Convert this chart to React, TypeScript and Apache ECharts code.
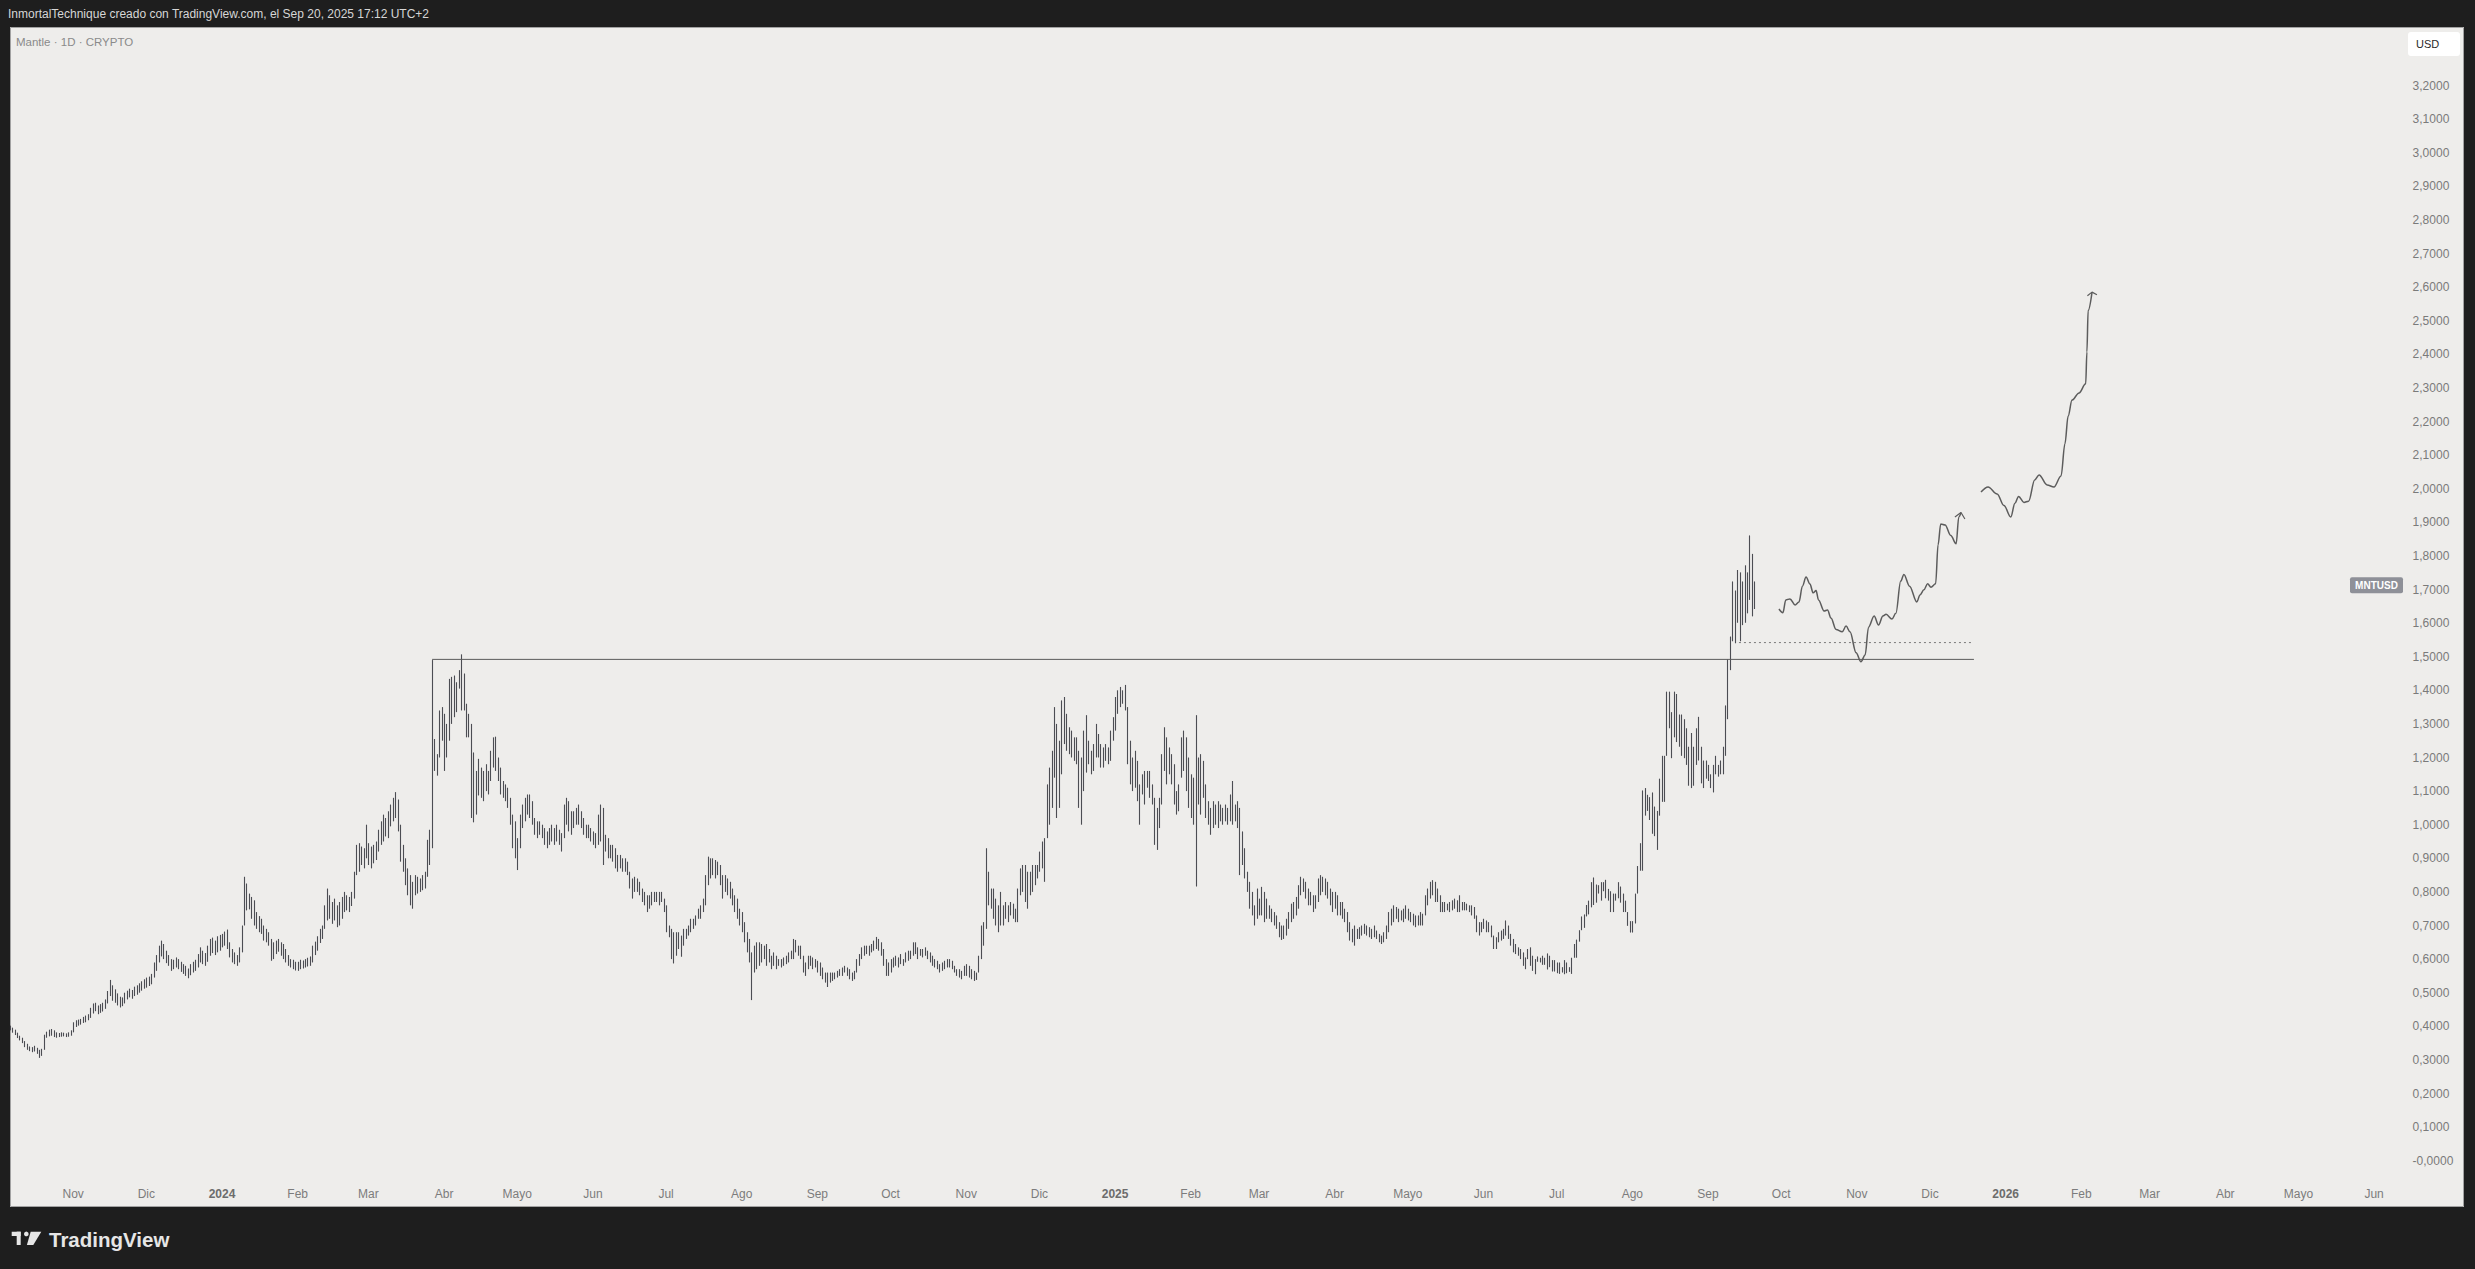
import * as echarts from "echarts";
import { useEffect, useRef } from "react";

// daily bars start on 6 Oct 2023; the time scale runs on into June 2026
const FIRST_DAY = Date.UTC(2023, 9, 6);
const DAY_COUNT = 982;
const MONTHS = ["", "Feb", "Mar", "Abr", "Mayo", "Jun", "Jul", "Ago", "Sep", "Oct", "Nov", "Dic"];

// MNT/USD daily lows, one line per month (Oct 2023 .. Sep 2025)
const lows = [
  .388,.381,.374,.365,.358,.350,.338,.330,.326,.323,.325,.318,.306,.312,.330,.366,.370,.372,.368,.366,.368,.369,.370,.368,.369,.372,
  .382,.398,.402,.405,.410,.412,.418,.425,.438,.445,.436,.440,.444,.452,.468,.490,.476,.470,.462,.456,.460,.468,.480,.486,.482,.490,.494,.500,.506,.512,
  .515,.520,.525,.545,.565,.590,.608,.600,.588,.580,.565,.570,.575,.570,.562,.556,.550,.543,.552,.560,.565,.575,.590,.585,.580,.592,.610,.618,.612,.620,.625,
  .635,.640,.630,.605,.590,.585,.580,.590,.620,.700,.745,.748,.720,.700,.690,.680,.675,.655,.650,.640,.595,.600,.615,.622,.610,.600,.590,.580,.575,.570,.566,
  .565,.570,.572,.575,.578,.580,.590,.612,.625,.648,.660,.690,.715,.720,.705,.715,.695,.700,.720,.740,.745,.740,.758,.780,.850,.860,.880,.870,.900,
  .880,.870,.885,.895,.920,.940,.950,.965,.960,.995,1.010,1.020,.980,.890,.860,.820,.790,.760,.750,.790,.795,.800,.805,.810,.845,.880,.930,1.160,1.146,1.200,1.250,
  1.160,1.200,1.250,1.300,1.320,1.335,1.405,1.340,1.340,1.260,1.260,1.020,1.007,1.030,1.087,1.080,1.070,1.100,1.090,1.130,1.170,1.160,1.130,1.090,1.080,1.070,1.050,1.000,.930,.900,
  .865,.930,.990,1.010,1.030,1.020,1.000,.970,.960,.970,.960,.940,.930,.940,.950,.940,.950,.940,.920,.960,1.000,.980,.970,.990,1.000,1.000,.990,.970,.960,.960,.950,
  .940,.930,.940,.950,.880,.920,.900,.900,.890,.870,.860,.870,.860,.860,.850,.810,.780,.800,.800,.790,.770,.760,.740,.750,.760,.770,.770,.760,.770,.740,
  .680,.665,.600,.587,.610,.630,.607,.640,.660,.670,.680,.690,.700,.720,.720,.740,.760,.820,.840,.850,.840,.850,.820,.780,.800,.790,.780,.760,.740,.720,.700,
  .680,.650,.620,.590,.478,.560,.570,.580,.590,.600,.580,.590,.570,.580,.570,.580,.575,.580,.585,.590,.600,.600,.620,.610,.600,.560,.550,.570,.580,.570,.575,
  .560,.550,.540,.530,.517,.530,.535,.540,.545,.550,.550,.560,.550,.540,.535,.540,.560,.580,.600,.610,.615,.610,.620,.625,.630,.625,.610,.580,.550,.550,
  .560,.575,.580,.575,.585,.580,.590,.595,.600,.610,.615,.600,.610,.605,.610,.600,.590,.580,.575,.570,.560,.565,.570,.575,.575,.570,.560,.550,.545,.540,.550,
  .550,.545,.540,.535,.538,.560,.600,.640,.690,.760,.750,.720,.700,.680,.700,.700,.720,.710,.730,.720,.710,.710,.790,.800,.770,.750,.790,.800,.820,.840,
  .860,.870,.830,.960,1.000,1.050,1.140,1.020,1.050,1.150,1.240,1.220,1.210,1.200,1.190,1.180,1.050,1.000,1.100,1.155,1.180,1.150,1.160,1.200,1.200,1.170,1.170,1.190,1.180,1.190,1.250,
  1.280,1.330,1.350,1.360,1.340,1.180,1.120,1.100,1.110,1.070,1.000,1.090,1.060,1.110,1.080,1.060,.940,.925,.990,1.060,1.160,1.120,1.150,1.120,1.060,1.030,1.040,1.140,1.160,1.100,1.050,
  1.020,1.000,.816,1.060,1.030,1.080,1.020,1.000,.970,.990,1.000,.990,1.010,1.000,1.010,1.000,1.010,1.000,1.010,.990,.850,.880,.840,.800,.750,.730,.700,.720,
  .730,.730,.710,.720,.720,.710,.700,.690,.665,.657,.660,.670,.690,.710,.720,.730,.750,.790,.800,.780,.760,.760,.740,.750,.770,.790,.800,.790,.780,.760,.740,
  .750,.730,.730,.720,.710,.680,.655,.650,.640,.660,.660,.670,.675,.670,.665,.660,.665,.660,.650,.645,.650,.660,.680,.700,.710,.720,.710,.715,.710,.720,
  .715,.710,.700,.695,.700,.700,.700,.730,.760,.780,.790,.770,.770,.740,.740,.740,.745,.740,.745,.750,.740,.740,.745,.745,.745,.740,.730,.720,.680,.670,.680,
  .690,.680,.680,.665,.630,.630,.650,.655,.660,.670,.660,.640,.620,.615,.610,.600,.580,.570,.600,.580,.565,.555,.592,.590,.583,.583,.569,.576,.563,.563,
  .558,.556,.560,.555,.558,.562,.556,.604,.604,.652,.686,.693,.727,.733,.754,.761,.768,.795,.774,.802,.781,.774,.740,.740,.774,.781,.768,.740,.740,.699,.679,
  .679,.706,.795,.863,.863,1.027,1.041,1.014,.973,.966,.925,1.027,1.068,1.068,1.205,1.287,1.198,1.260,1.246,1.232,1.205,1.198,1.178,1.116,1.109,1.116,1.178,1.191,1.123,1.109,1.137,
  1.130,1.109,1.096,1.150,1.143,1.150,1.150,1.205,1.314,1.460,1.546,1.540,1.601,1.546,1.594,1.601,1.629,1.669,1.620,1.642,
];

// MNT/USD daily highs, same days
const highs = [
  .402,.396,.390,.381,.372,.366,.356,.348,.340,.338,.342,.336,.330,.333,.375,.384,.390,.392,.388,.382,.380,.382,.381,.379,.382,.388,
  .412,.418,.420,.422,.428,.432,.436,.455,.468,.470,.462,.466,.470,.480,.505,.538,.522,.510,.498,.488,.486,.500,.506,.512,.508,.518,.522,.528,.534,.540,
  .545,.548,.556,.590,.612,.640,.655,.645,.625,.612,.600,.598,.605,.600,.592,.585,.580,.572,.585,.592,.598,.615,.635,.625,.618,.640,.660,.664,.655,.668,.672,
  .675,.682,.688,.650,.630,.620,.612,.635,.700,.845,.825,.795,.785,.775,.740,.728,.720,.700,.690,.680,.660,.650,.655,.660,.650,.645,.630,.612,.600,.598,.592,
  .592,.598,.596,.600,.604,.608,.640,.652,.668,.690,.700,.760,.810,.790,.770,.780,.760,.770,.785,.800,.790,.785,.800,.860,.940,.945,.935,.930,1.000,
  .945,.935,.940,.950,.985,1.010,1.030,1.020,1.040,1.060,1.080,1.097,1.075,1.000,.940,.900,.870,.850,.830,.850,.845,.840,.850,.860,.955,.985,1.490,1.255,1.210,1.340,1.350,
  1.330,1.300,1.434,1.440,1.444,1.424,1.460,1.507,1.450,1.360,1.330,1.300,1.215,1.160,1.196,1.170,1.160,1.180,1.160,1.220,1.260,1.262,1.200,1.170,1.130,1.120,1.110,1.080,1.030,1.010,
  .960,1.030,1.060,1.080,1.090,1.090,1.070,1.020,1.010,1.010,1.000,.990,.980,.990,1.000,.990,1.000,.985,.975,1.060,1.080,1.070,1.040,1.040,1.050,1.060,1.040,1.020,1.000,1.000,.990,
  .980,.975,1.030,1.060,1.050,.970,.960,.940,.940,.930,.910,.910,.900,.900,.890,.860,.840,.845,.840,.830,.810,.800,.790,.790,.800,.800,.800,.800,.800,.780,
  .760,.700,.690,.680,.680,.680,.670,.690,.690,.700,.720,.720,.730,.750,.760,.780,.850,.905,.900,.900,.895,.890,.880,.850,.850,.840,.830,.810,.790,.780,.750,
  .740,.710,.680,.660,.620,.640,.650,.650,.645,.640,.645,.630,.610,.620,.610,.600,.600,.605,.610,.620,.625,.660,.657,.640,.640,.610,.590,.610,.610,.605,.600,
  .595,.590,.575,.560,.560,.560,.560,.560,.565,.570,.575,.580,.575,.570,.560,.565,.600,.615,.635,.640,.640,.640,.645,.655,.666,.660,.650,.630,.600,.590,
  .600,.605,.610,.605,.615,.600,.620,.625,.625,.650,.650,.635,.630,.630,.635,.625,.620,.610,.600,.595,.585,.590,.595,.600,.600,.595,.580,.570,.570,.565,.580,
  .585,.580,.570,.565,.560,.610,.700,.710,.930,.860,.810,.810,.780,.760,.800,.760,.770,.760,.770,.765,.750,.810,.870,.880,.880,.860,.860,.880,.880,.880,
  .920,.950,.960,1.120,1.170,1.220,1.350,1.300,1.250,1.370,1.380,1.330,1.290,1.280,1.260,1.260,1.220,1.200,1.280,1.326,1.250,1.220,1.240,1.300,1.270,1.240,1.230,1.240,1.230,1.280,1.320,
  1.380,1.400,1.410,1.400,1.416,1.350,1.250,1.200,1.220,1.190,1.120,1.150,1.160,1.160,1.160,1.120,1.080,1.050,1.080,1.210,1.290,1.260,1.230,1.210,1.180,1.100,1.120,1.260,1.280,1.260,1.200,
  1.150,1.140,1.326,1.200,1.210,1.190,1.120,1.070,1.050,1.070,1.060,1.070,1.060,1.050,1.060,1.050,1.090,1.130,1.060,1.070,1.050,.980,.930,.860,.830,.800,.760,.810,
  .780,.815,.800,.780,.760,.750,.740,.730,.710,.700,.700,.720,.740,.765,.770,.785,.820,.845,.840,.830,.810,.800,.790,.790,.840,.850,.845,.840,.830,.810,.800,
  .800,.790,.770,.770,.750,.740,.710,.690,.700,.690,.695,.700,.705,.700,.695,.690,.700,.685,.675,.670,.680,.700,.740,.750,.760,.755,.750,.745,.750,.760,
  .750,.740,.735,.730,.730,.740,.735,.790,.810,.830,.835,.830,.810,.790,.770,.770,.765,.770,.775,.780,.775,.790,.770,.770,.765,.760,.760,.755,.730,.710,.710,
  .720,.715,.710,.700,.670,.665,.680,.685,.690,.715,.700,.675,.660,.645,.635,.630,.620,.605,.630,.635,.610,.600,.608,.604,.610,.604,.617,.610,.597,.597,
  .590,.590,.576,.597,.590,.576,.604,.645,.658,.686,.727,.733,.761,.774,.829,.843,.822,.820,.829,.829,.836,.809,.802,.795,.795,.829,.816,.795,.774,.740,.713,
  .713,.795,.877,.945,1.102,1.109,1.089,1.082,1.096,1.054,1.041,1.137,1.205,1.205,1.396,1.396,1.335,1.396,1.389,1.328,1.328,1.314,1.287,1.232,1.273,1.232,1.287,1.321,1.232,1.191,1.191,
  1.178,1.150,1.178,1.205,1.178,1.191,1.232,1.355,1.492,1.560,1.724,1.697,1.758,1.751,1.724,1.772,1.751,1.861,1.806,1.724,
];

const lastClose = 1.713;

// drawings, as [day index, price]
const breakoutLine = [[173.1, 1.492], [805.0, 1.492]];
const retestLine = [[708.7, 1.542], [805.0, 1.542]];
const pathNear = [
  [725.1,1.642],[726.7,1.631],[727.9,1.669],[729.6,1.672],[731.7,1.654],[733.3,1.663],[734.7,1.710],[736.2,1.737],
  [737.8,1.716],[739.1,1.690],[740.3,1.697],[741.3,1.669],[743.6,1.636],[745.0,1.639],[746.4,1.615],[748.5,1.581],
  [751.0,1.574],[752.6,1.591],[754.2,1.574],[756.7,1.512],[758.7,1.485],[760.4,1.505],[761.8,1.588],[764.1,1.621],
  [765.9,1.594],[767.7,1.621],[769.0,1.626],[771.4,1.612],[773.0,1.629],[775.0,1.725],[776.3,1.745],[778.6,1.710],
  [781.6,1.663],[782.9,1.684],[784.5,1.699],[786.0,1.717],[787.4,1.707],[789.3,1.717],[790.3,1.833],[791.4,1.895],
  [793.2,1.892],[795.5,1.861],[797.7,1.836],[798.8,1.916],[799.7,1.929],
];
const pathFar = [
  [807.9,1.990],[810.8,2.005],[814.5,1.984],[817.3,1.950],[820.1,1.916],[821.8,1.957],[823.3,1.977],[825.5,1.959],
  [827.4,1.963],[829.9,2.026],[831.7,2.041],[835.0,2.011],[837.8,2.005],[840.7,2.038],[842.3,2.134],[843.6,2.216],
  [845.2,2.264],[848.1,2.285],[850.8,2.312],[851.3,2.407],[851.8,2.530],[853.4,2.585],
];
const arrowNear = [[797.2, 1.916], [799.7, 1.929], [801.3, 1.910]];
const arrowFar = [[851.5, 2.574], [853.4, 2.585], [855.4, 2.577]];

const days = Array.from({ length: DAY_COUNT }, (_, i) =>
  new Date(FIRST_DAY + i * 86400000).toISOString().slice(0, 10)
);

const FONT = "'Liberation Sans', Roboto, sans-serif";
const DARK = "#1e1e1e";
const BAR = "#4c4d53";
const INK = "#5c5c5c";

function drawing(data: number[][], extra: object = {}) {
  return {
    type: "line",
    xAxisIndex: 1,
    data,
    symbol: "none",
    silent: true,
    lineStyle: { color: INK, width: 1.5 },
    ...extra,
  };
}

function frame(tagY: number) {
  return [
    { type: "rect", id: "top", shape: { x: 0, y: 0, width: 2475, height: 27 }, style: { fill: DARK } },
    { type: "rect", id: "bottom", shape: { x: 0, y: 1207, width: 2475, height: 62 }, style: { fill: DARK } },
    { type: "rect", id: "left", shape: { x: 0, y: 0, width: 10, height: 1269 }, style: { fill: DARK } },
    { type: "rect", id: "right", shape: { x: 2464, y: 0, width: 11, height: 1269 }, style: { fill: DARK } },
    { type: "rect", id: "border", shape: { x: 10.5, y: 27.5, width: 2453, height: 1179 }, style: { fill: "none", stroke: "#a2a2a2", lineWidth: 1 } },
    {
      type: "text", id: "credit", x: 8, y: 14,
      style: { text: "InmortalTechnique creado con TradingView.com, el Sep 20, 2025 17:12 UTC+2", fill: "#d6d6d6", font: `12px ${FONT}`, verticalAlign: "middle" },
    },
    {
      type: "text", id: "symbol", x: 16, y: 42,
      style: { text: "Mantle · 1D · CRYPTO", fill: "#8a8a8a", font: `11.5px ${FONT}`, verticalAlign: "middle" },
    },
    { type: "rect", id: "usdBox", shape: { x: 2408, y: 32, width: 52, height: 24, r: 3 }, style: { fill: "#ffffff" } },
    {
      type: "text", id: "usd", x: 2416, y: 44,
      style: { text: "USD", fill: "#2a2a2a", font: `11px ${FONT}`, verticalAlign: "middle" },
    },
    { type: "rect", id: "tagBox", shape: { x: 2350, y: tagY - 8, width: 53, height: 16, r: 2 }, style: { fill: "#8e9098" } },
    {
      type: "text", id: "tag", x: 2376.5, y: tagY,
      style: { text: "MNTUSD", fill: "#ffffff", font: `bold 10px ${FONT}`, align: "center", verticalAlign: "middle" },
    },
    { type: "rect", id: "logoTop", shape: { x: 11.7, y: 1231.7, width: 9, height: 4.3 }, style: { fill: "#e6e6e6" } },
    { type: "rect", id: "logoStem", shape: { x: 16.7, y: 1231.7, width: 4, height: 13.3 }, style: { fill: "#e6e6e6" } },
    { type: "circle", id: "logoDot", shape: { cx: 26.3, cy: 1233.9, r: 2.3 }, style: { fill: "#e6e6e6" } },
    {
      type: "polygon", id: "logoSlash",
      shape: { points: [[30.7, 1231.7], [41.3, 1231.7], [33.3, 1245], [26.9, 1245]] },
      style: { fill: "#e6e6e6" },
    },
    {
      type: "text", id: "brand", x: 49, y: 1239,
      style: { text: "TradingView", fill: "#e6e6e6", font: `bold 20.5px ${FONT}`, verticalAlign: "middle" },
    },
  ];
}

export default function App() {
  const ref = useRef<HTMLDivElement>(null);

  useEffect(() => {
    const chart = echarts.init(ref.current!, null, { renderer: "svg" });
    chart.setOption({
      animation: false,
      backgroundColor: "#eeedeb",
      grid: { left: 8.5, right: 70.4, top: 18.3, bottom: 74.7 },
      xAxis: [
        {
          type: "category",
          data: days,
          boundaryGap: true,
          axisLine: { show: false },
          axisTick: { show: false },
          splitLine: { show: false },
          axisLabel: {
            interval: (_: number, value: string) => value.slice(8) === "01",
            formatter: (value: string) => {
              const m = Number(value.slice(5, 7));
              return m === 1 ? `{y|${value.slice(0, 4)}}` : MONTHS[m - 1];
            },
            rich: { y: { fontWeight: "bold", color: "#6c6c6c", fontSize: 12, fontFamily: FONT } },
            color: "#7c7c7c",
            fontSize: 12,
            fontFamily: FONT,
            margin: -6,
          },
        },
        { type: "value", min: -0.5, max: DAY_COUNT - 0.5, show: false },
      ],
      yAxis: {
        type: "value",
        position: "right",
        min: -0.1,
        max: 3.4,
        interval: 0.1,
        axisLine: { show: false },
        axisTick: { show: false },
        splitLine: { show: false },
        axisLabel: {
          color: "#7a7a7a",
          fontSize: 12,
          fontFamily: FONT,
          margin: 8,
          formatter: (v: number) => {
            if (v < -0.05 || v > 3.25) return "";
            if (Math.abs(v) < 1e-9) return "-0,0000";
            return v.toFixed(4).replace(".", ",");
          },
        },
      },
      series: [
        {
          type: "custom",
          xAxisIndex: 0,
          silent: true,
          data: lows.map((lo, i) => [i, lo, highs[i]]),
          encode: { x: 0, y: [1, 2] },
          renderItem: (_: unknown, api: any) => {
            const a = api.coord([api.value(0), api.value(1)]);
            const b = api.coord([api.value(0), api.value(2)]);
            // snap to the pixel grid so each daily bar stays a crisp 1px stroke
            const x = Math.round(a[0]) + 0.5;
            return {
              type: "line",
              shape: { x1: x, y1: a[1], x2: x, y2: b[1] },
              style: { stroke: BAR, lineWidth: 1.1 },
            };
          },
        },
        drawing(breakoutLine, { lineStyle: { color: "#5a5a5a", width: 1 } }),
        drawing(retestLine, { lineStyle: { color: "#7a7a7a", width: 1, type: [2, 3] } }),
        drawing(pathNear, { smooth: 0.35, smoothMonotone: "x" }),
        drawing(pathFar, { smooth: 0.35, smoothMonotone: "x" }),
        drawing(arrowNear, { lineStyle: { color: INK, width: 1.2 } }),
        drawing(arrowFar, { lineStyle: { color: INK, width: 1.2 } }),
      ],
    });
    const tagY = chart.convertToPixel({ yAxisIndex: 0 }, lastClose) as number;
    chart.setOption({ graphic: frame(tagY) });
    return () => chart.dispose();
  }, []);

  return (
    <div
      ref={ref}
      style={{ position: "fixed", left: 0, top: 0, width: "100vw", height: "100vh" }}
    />
  );
}
